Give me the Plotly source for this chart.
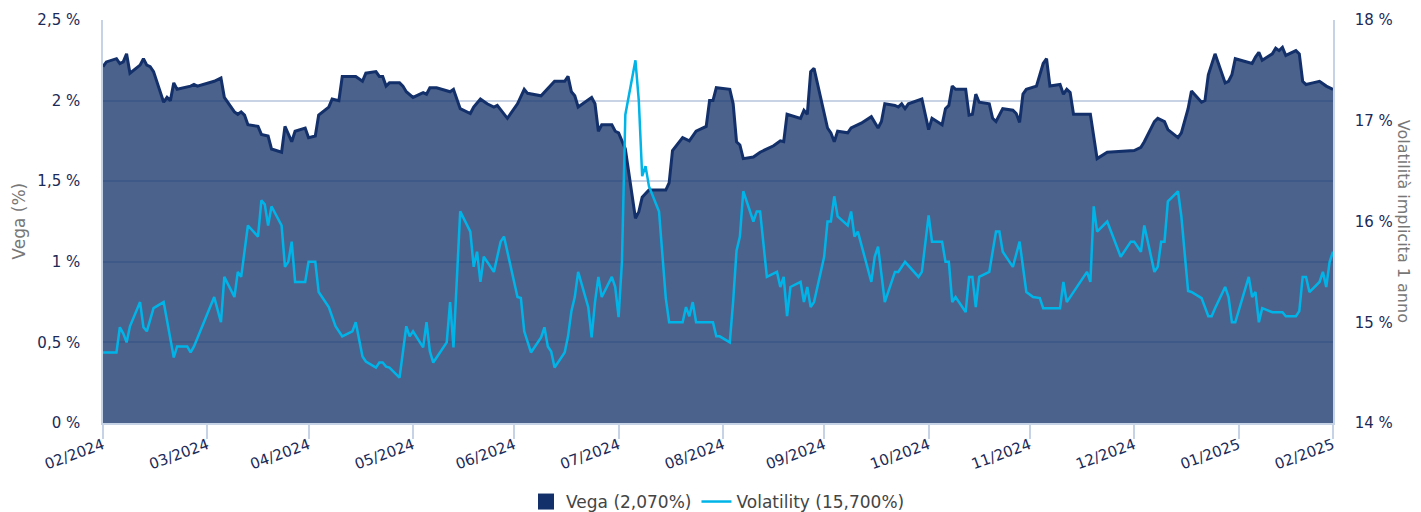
import pandas as pd
import plotly.graph_objects as go

start_date = "2024-02-29"

vega_day = [0,1,4,5,6,7,8,11,12,13,14,15,18,19,20,21,22,26,27,28,33,35,36,39,40,41,42,43,46,47,49,50,53,54,56,57,60,61,63,64,67,68,70,71,75,77,78,81,82,83,84,85,88,89,90,92,95,96,97,99,103,104,106,109,110,112,114,116,117,120,123,125,126,130,134,137,138,139,140,141,145,146,147,148,151,152,153,155,158,159,160,162,167,168,169,172,174,176,179,180,181,182,186,187,188,189,190,193,195,197,199,201,202,203,207,208,209,210,211,215,216,217,218,221,222,225,228,230,231,232,235,236,237,238,239,243,245,246,249,250,251,252,253,256,257,258,259,260,263,264,265,267,270,271,272,273,274,277,279,280,281,284,285,286,287,288,293,295,298,306,308,309,312,313,315,316,319,320,322,323,326,327,328,330,333,334,335,336,341,342,343,344,347,348,349,350,351,354,355,356,357,359,361,363,365]
vega_val = [2.21,2.24,2.26,2.23,2.24,2.29,2.17,2.22,2.26,2.22,2.21,2.18,1.99,2.02,2.00,2.11,2.07,2.09,2.10,2.09,2.12,2.14,2.02,1.93,1.915,1.93,1.91,1.85,1.84,1.79,1.78,1.70,1.68,1.84,1.745,1.81,1.83,1.77,1.78,1.91,1.96,2.01,2.00,2.15,2.15,2.12,2.17,2.18,2.15,2.15,2.09,2.11,2.11,2.09,2.055,2.02,2.05,2.04,2.08,2.08,2.055,2.07,1.95,1.92,1.96,2.01,1.98,1.96,1.97,1.89,1.98,2.07,2.045,2.03,2.12,2.12,2.15,2.055,2.03,1.96,2.02,1.98,1.81,1.85,1.85,1.81,1.80,1.70,1.27,1.31,1.40,1.445,1.445,1.49,1.69,1.77,1.75,1.81,1.84,2.00,2.00,2.08,2.07,1.98,1.745,1.725,1.64,1.65,1.68,1.70,1.72,1.75,1.745,1.915,1.89,1.94,1.915,2.18,2.20,1.83,1.80,1.745,1.81,1.80,1.83,1.86,1.90,1.83,1.87,1.98,1.97,1.96,1.98,1.95,1.98,2.01,1.82,1.89,1.85,1.95,1.97,2.09,2.07,2.07,1.91,1.915,2.04,1.99,1.98,1.89,1.87,1.95,1.94,1.92,1.865,2.04,2.07,2.09,2.23,2.26,2.09,2.10,2.04,2.07,2.05,1.915,1.915,1.64,1.68,1.69,1.71,1.745,1.87,1.89,1.87,1.82,1.77,1.80,1.95,2.06,1.99,2.00,2.16,2.29,2.11,2.12,2.16,2.26,2.23,2.27,2.30,2.25,2.29,2.325,2.31,2.33,2.28,2.31,2.29,2.12,2.10,2.11,2.12,2.09,2.07]

vol_day = [0,4,5,6,7,8,11,12,13,15,18,21,22,25,26,27,33,35,36,39,40,41,43,46,47,48,49,50,53,54,55,56,57,60,61,63,64,67,69,71,74,75,77,78,81,82,83,84,85,88,90,91,92,95,96,97,98,102,103,104,106,109,110,111,112,113,116,118,119,123,124,125,127,130,131,132,133,134,137,138,139,140,141,144,145,146,147,148,151,152,153,154,155,158,159,160,161,162,165,167,168,172,173,174,175,176,181,182,183,186,187,188,189,190,193,194,195,197,200,201,202,203,204,207,208,209,210,211,214,215,216,217,218,221,222,223,224,228,229,230,232,235,236,238,242,243,245,246,249,250,251,252,253,256,257,258,259,260,263,265,266,267,270,272,274,276,278,279,284,285,286,292,293,294,295,298,302,305,306,308,309,312,313,314,315,316,319,320,322,323,326,328,329,330,333,334,335,336,340,341,342,343,344,347,350,351,354,355,356,357,358,361,362,363,364,365]
vol_val = [14.70,14.70,14.95,14.89,14.80,14.96,15.20,14.95,14.91,15.14,15.20,14.65,14.76,14.76,14.70,14.76,15.25,15.00,15.45,15.25,15.50,15.45,15.96,15.85,16.21,16.17,15.96,16.15,15.96,15.55,15.60,15.80,15.40,15.40,15.60,15.60,15.30,15.15,14.96,14.86,14.91,15.00,14.66,14.61,14.55,14.60,14.60,14.56,14.55,14.45,14.96,14.86,14.91,14.75,15.00,14.71,14.60,14.80,15.20,14.75,16.10,15.90,15.55,15.70,15.40,15.65,15.50,15.80,15.85,15.25,15.24,14.91,14.70,14.85,14.95,14.76,14.71,14.55,14.70,14.86,15.11,15.25,15.50,15.15,14.85,15.20,15.45,15.25,15.45,15.35,15.05,15.60,17.06,17.60,17.20,16.45,16.55,16.35,16.10,15.24,15.00,15.00,15.15,15.06,15.20,15.00,15.00,14.86,14.86,14.80,15.21,15.71,15.85,16.30,16.00,16.10,16.10,15.45,15.50,15.35,15.45,15.06,15.35,15.40,15.20,15.35,15.15,15.20,15.65,16.00,16.00,16.25,16.05,15.96,16.10,15.85,15.90,15.40,15.65,15.75,15.20,15.50,15.50,15.60,15.45,15.50,16.06,15.80,15.80,15.60,15.60,15.20,15.25,15.10,15.45,15.45,15.15,15.45,15.50,15.90,15.90,15.70,15.55,15.80,15.30,15.25,15.24,15.14,15.14,15.40,15.20,15.50,15.40,16.15,15.90,16.00,15.65,15.80,15.80,15.70,15.96,15.50,15.55,15.80,15.80,16.20,16.30,16.05,15.31,15.30,15.24,15.06,15.06,15.14,15.35,15.25,15.00,15.00,15.45,15.25,15.30,15.00,15.14,15.10,15.10,15.06,15.06,15.11,15.45,15.45,15.30,15.40,15.50,15.35,15.60,15.70]

vega_ticks = [0, 0.5, 1, 1.5, 2, 2.5]
vega_tick_text = ["0 %", "0,5 %", "1 %", "1,5 %", "2 %", "2,5 %"]
vol_ticks = [14, 15, 16, 17, 18]
vol_tick_text = ["14 %", "15 %", "16 %", "17 %", "18 %"]

vega_name = "Vega (2,070%)"
vol_name = "Volatility (15,700%)"
left_title = "Vega (%)"
right_title = "Volatilità implicita 1 anno"

start = pd.Timestamp(start_date)
vega_x = start + pd.to_timedelta(vega_day, unit="D")
vol_x = start + pd.to_timedelta(vol_day, unit="D")
month_ticks = pd.date_range(start_date, periods=13, freq="ME")
month_text = [d.strftime("%m/%Y") for d in month_ticks]

FONT = "DejaVu Sans"
NAVY = "#13306a"
TICK_COL = "#1b2a57"
AXIS_LINE = "#c6d2e6"
TICK_SIZE = 15

fig = go.Figure()
fig.add_trace(go.Scatter(
    x=vega_x, y=vega_val, name=vega_name, mode="lines",
    line=dict(color=NAVY, width=3), fill="tozeroy",
    fillcolor="rgba(19,48,105,0.76)", yaxis="y",
    showlegend=False, legendgroup="vega",
))
# legend entry for the area series (solid square like the original)
fig.add_trace(go.Scatter(
    x=[None], y=[None], name=vega_name, mode="markers",
    marker=dict(symbol="square", size=18, color=NAVY),
    legendgroup="vega", showlegend=True, yaxis="y",
))
fig.add_trace(go.Scatter(
    x=vol_x, y=vol_val, name=vol_name, mode="lines",
    line=dict(color="#00b4e8", width=2.5), yaxis="y2",
))

fig.update_layout(
    width=1413, height=504,
    margin=dict(l=95, r=88, t=12, b=89, autoexpand=False),
    paper_bgcolor="white", plot_bgcolor="white",
    font=dict(family=FONT, size=TICK_SIZE, color=TICK_COL),
    showlegend=True,
    legend=dict(orientation="h", x=0.5, xanchor="center", y=-0.196, yanchor="middle",
                font=dict(family=FONT, size=17, color="#444444"), traceorder="normal",
                itemsizing="trace"),
    xaxis=dict(
        type="date", range=[month_ticks[0], month_ticks[-1]],
        tickvals=month_ticks, ticktext=month_text, tickangle=-20,
        ticks="outside", ticklen=14, tickcolor=AXIS_LINE, tickwidth=1.5,
        ticklabelstandoff=-8,
        showline=True, linecolor=AXIS_LINE, linewidth=1.5,
        showgrid=False, zeroline=False,
        tickfont=dict(family=FONT, size=TICK_SIZE, color=TICK_COL),
    ),
    yaxis=dict(
        range=[0, 2.5], tickvals=vega_ticks, ticktext=vega_tick_text,
        showgrid=True, gridcolor="#c8d3e6", gridwidth=1.5,
        showline=True, linecolor=AXIS_LINE, linewidth=1.5,
        zeroline=False, ticks="", ticklabelstandoff=18,
        tickfont=dict(family=FONT, size=TICK_SIZE, color=TICK_COL),
    ),
    yaxis2=dict(
        range=[14, 18], tickvals=vol_ticks, ticktext=vol_tick_text,
        overlaying="y", side="right", showgrid=False, zeroline=False,
        showline=True, linecolor=AXIS_LINE, linewidth=1.5, ticks="",
        ticklabelstandoff=17,
        tickfont=dict(family=FONT, size=TICK_SIZE, color=TICK_COL),
    ),
    annotations=[
        dict(text=left_title, xref="paper", yref="paper", x=-0.069, y=0.5,
             textangle=-90, showarrow=False, xanchor="center", yanchor="middle",
             font=dict(family=FONT, size=17, color="#777777")),
        dict(text=right_title, xref="paper", yref="paper", x=1.0575, y=0.5,
             textangle=90, showarrow=False, xanchor="center", yanchor="middle",
             font=dict(family=FONT, size=16, color="#777777")),
    ],
)

fig.write_html("out.html")
